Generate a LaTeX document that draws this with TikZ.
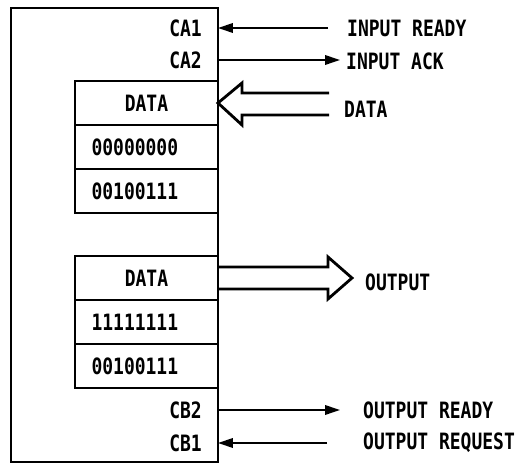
\documentclass[tikz,border=0pt]{standalone}
\usepackage{fontspec}
\setmainfont{DejaVu Sans Mono}[FakeStretch=0.8]
\usetikzlibrary{arrows.meta, positioning, calc}

\begin{document}
\begin{tikzpicture}[x=0.02cm, y=-0.02cm, >={Triangle[length=3mm, width=1.9mm]}, every node/.style={font=\fontsize{12.8}{15}\selectfont\bfseries}]
    \tikzstyle{chip}=[rectangle, draw, line width=1.6pt, outer sep=0pt, minimum width=4.14cm, minimum height=9.08cm]
    \tikzstyle{cell}=[rectangle, draw, line width=1.6pt, outer sep=0pt, inner sep=0pt, minimum width=2.86cm, minimum height=0.88cm]
    \tikzstyle{bits}=[cell, text width=2.2cm, inner xsep=0.33cm, align=left]
    \tikzstyle{flow}=[->, line width=1.1pt]
    \tikzstyle{bus}=[line width=1.6pt, line join=miter]

    \useasboundingbox (0,0) rectangle (518,465);

    \node[chip] (pia) at (114.5,235) {};

    \node[cell] (inhead) at (146.5,103) {DATA};
    \node[bits, below=0pt of inhead] (inlo) {00000000};
    \node[bits, below=0pt of inlo] (inhi) {00100111};

    \node[cell] (outhead) at (146.5,278) {DATA};
    \node[bits, below=0pt of outhead] (outlo) {11111111};
    \node[bits, below=0pt of outlo] (outhi) {00100111};

    \node[anchor=east] (ca1) at (208,28) {CA1};
    \node[anchor=east] (ca2) at (208,60) {CA2};
    \node[anchor=east] (cb2) at (208,410) {CB2};
    \node[anchor=east] (cb1) at (208,443) {CB1};

    \node[anchor=west] (irdy) at (341,28) {INPUT READY};
    \node[anchor=west] (iack) at (340,61) {INPUT ACK};
    \node[anchor=west] (idata) at (338,109) {DATA};
    \node[anchor=west] (odata) at (359,282) {OUTPUT};
    \node[anchor=west] (ordy) at (357,410) {OUTPUT READY};
    \node[anchor=west] (oreq) at (357,443) {OUTPUT REQUEST};

    \coordinate (rdyend) at (328,28);
    \coordinate (ackend) at (340,60);
    \coordinate (ordyend) at (340,410);
    \coordinate (oreqend) at (327,443);

    \draw[flow] (rdyend) -- (rdyend -| pia.east);
    \draw[flow] (ackend -| pia.east) -- (ackend);
    \draw[flow] (ordyend -| pia.east) -- (ordyend);
    \draw[flow] (oreqend) -- (oreqend -| pia.east);

    % wide bus arrows
    \draw[bus] (329,93) -- (242,93) -- (242,83) -- (inhead.east) -- (242,125) -- (242,115) -- (329,115);
    \draw[bus] ($(outhead.east)+(0,-11)$) -- (328,267) -- (328,257) -- (352,278) -- (328,299) -- (328,289) -- ($(outhead.east)+(0,11)$);
\end{tikzpicture}
\end{document}
